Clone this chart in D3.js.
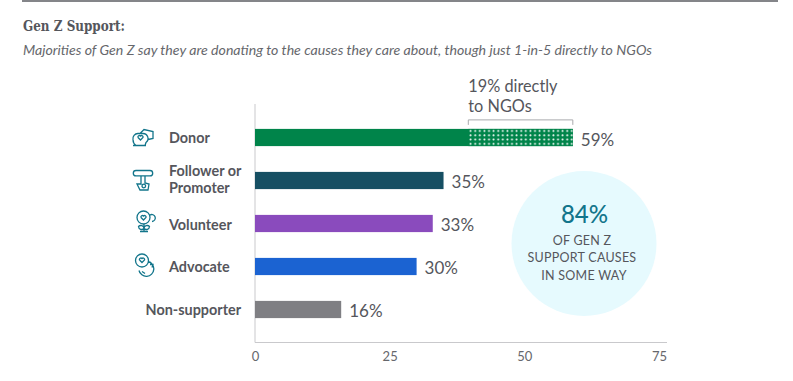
<!DOCTYPE html>
<html lang="en">
<head>
<meta charset="utf-8">
<title>Gen Z Support</title>
<script src="https://d3js.org/d3.v7.min.js"></script>
<style>
	html, body { margin: 0; padding: 0; background: #fff; overflow: hidden; }
	svg { display: block; }
	text { font-family: Lato, "Open Sans", sans-serif; }
</style>
</head>
<body>
<div id="chart"></div>
<script>
	// Data
	const categories = ["Donor", "Follower or Promoter", "Volunteer", "Advocate", "Non-supporter"];
	const values = [59, 35, 33, 30, 16];
	const barColors = ["#00844a", "#164f63", "#8a4bbd", "#1b63d2", "#7f7f83"];
	const directShare = 19.4; // dotted part as drawn, labelled 19%
	const xTicks = [0, 25, 50, 75];

	const width = 793;
	const height = 381;
	const grey = "#55565c";
	const teal = "#12758b";

	const svg = d3.select("#chart")
		.append("svg")
		.attr("width", width)
		.attr("height", height);

	// Scales
	const xScale = d3.scaleLinear().domain([0, 75]).range([255, 659]);
	const yScale = d3.scaleBand()
		.domain(categories)
		.range([116, 331])
		.paddingInner(0.6)
		.paddingOuter(0.3);

	// Header
	svg.append("line")
		.attr("x1", 22).attr("x2", 778)
		.attr("y1", 1).attr("y2", 1)
		.attr("stroke", "#5b5c62")
		.attr("stroke-width", 1.5);

	svg.append("text")
		.attr("x", 23).attr("y", 31)
		.attr("font-size", 15.5)
		.attr("font-weight", 700)
		.attr("fill", grey)
		.style("font-family", "'DejaVu Serif', serif")
		.attr("textLength", 102)
		.attr("lengthAdjust", "spacingAndGlyphs")
		.text("Gen Z Support:");

	svg.append("text")
		.attr("x", 23).attr("y", 55)
		.attr("font-size", 14)
		.attr("font-style", "italic")
		.attr("fill", "#66676c")
		.attr("textLength", 629)
		.attr("lengthAdjust", "spacingAndGlyphs")
		.text("Majorities of Gen Z say they are donating to the causes they care about, though just 1-in-5 directly to NGOs");

	// Callout circle
	svg.append("circle")
		.attr("cx", 584).attr("cy", 243.5).attr("r", 72.5)
		.attr("fill", "#e6fafe");

	svg.append("text")
		.attr("x", 584.5).attr("y", 223)
		.attr("text-anchor", "middle")
		.attr("font-size", 24)
		.attr("font-weight", 500)
		.attr("fill", teal)
		.text("84%");

	["OF GEN Z", "SUPPORT CAUSES", "IN SOME WAY"].forEach((line, i) => {
		svg.append("text")
			.attr("x", i === 2 ? 584 : 582).attr("y", 245 + i * 17.4)
			.attr("text-anchor", "middle")
			.attr("font-size", 12.5)
			.attr("letter-spacing", "0.02em")
			.attr("fill", grey)
			.text(line);
	});

	// Axes
	const xAxis = d3.axisBottom(xScale)
		.tickValues(xTicks)
		.tickSize(0)
		.tickPadding(9);

	const xAxisG = svg.append("g")
		.attr("transform", "translate(0, 342.5)")
		.call(xAxis);
	xAxisG.select(".domain").remove();
	xAxisG.selectAll("text")
		.attr("font-size", 13)
		.attr("fill", "#66676c")
		.style("font-family", "Lato, sans-serif");

	svg.append("line")
		.attr("x1", xScale(0)).attr("x2", 667)
		.attr("y1", 342.5).attr("y2", 342.5)
		.attr("stroke", "#c9c9cc");
	svg.append("line")
		.attr("x1", xScale(0)).attr("x2", xScale(0))
		.attr("y1", 104).attr("y2", 342.5)
		.attr("stroke", "#c9c9cc");

	// Bars
	svg.selectAll(".bar")
		.data(categories)
		.enter()
		.append("rect")
		.attr("class", "bar")
		.attr("x", xScale(0))
		.attr("y", d => yScale(d))
		.attr("width", (d, i) => xScale(values[i]) - xScale(0))
		.attr("height", yScale.bandwidth())
		.attr("fill", (d, i) => barColors[i]);

	// Dotted part of the donor bar
	const pattern = svg.append("defs").append("pattern")
		.attr("id", "dots")
		.attr("width", 4.6).attr("height", 4.3)
		.attr("patternUnits", "userSpaceOnUse")
		.attr("x", xScale(values[0] - directShare))
		.attr("y", yScale(categories[0]));
	pattern.append("rect").attr("width", 4.6).attr("height", 4.3).attr("fill", barColors[0]);
	pattern.append("circle").attr("cx", 2.3).attr("cy", 2.1).attr("r", 1).attr("fill", "#fff");

	svg.append("rect")
		.attr("x", xScale(values[0] - directShare))
		.attr("y", yScale(categories[0]))
		.attr("width", xScale(values[0]) - xScale(values[0] - directShare))
		.attr("height", yScale.bandwidth())
		.attr("fill", "url(#dots)");

	// Bracket + annotation
	const bx0 = xScale(values[0] - directShare);
	const bx1 = xScale(values[0]);
	const bTop = yScale(categories[0]) - 9;
	svg.append("path")
		.attr("d", `M${bx0},${bTop + 5}V${bTop}H${bx1}V${bTop + 5}`)
		.attr("fill", "none")
		.attr("stroke", "#a9aaad")
		.attr("stroke-width", 1);

	["19% directly", "to NGOs"].forEach((line, i) => {
		svg.append("text")
			.attr("x", bx0).attr("y", 92 + i * 20)
			.attr("font-size", 16.3)
			.attr("fill", grey)
			.text(line);
	});

	// Value labels
	svg.selectAll(".value-label")
		.data(categories)
		.enter()
		.append("text")
		.attr("class", "value-label")
		.attr("x", (d, i) => xScale(values[i]) + 8)
		.attr("y", (d, i) => yScale(d) + yScale.bandwidth() / 2 + (i === 0 ? 2 : 1))
		.attr("dy", "0.38em")
		.attr("font-size", 17)
		.attr("fill", grey)
		.text((d, i) => `${values[i]}%`);

	// Category labels
	const labelLines = { "Follower or Promoter": ["Follower or", "Promoter"] };
	const labelNudge = { "Follower or Promoter": -1.5, "Volunteer": 1 };
	categories.forEach(c => {
		const cy = yScale(c) + yScale.bandwidth() / 2;
		const lines = labelLines[c] || [c];
		const isLast = c === "Non-supporter";
		const nudge = labelNudge[c] || 0;
		lines.forEach((line, i) => {
			svg.append("text")
				.attr("x", isLast ? 241 : 169)
				.attr("y", cy + nudge + (i - (lines.length - 1) / 2) * 17)
				.attr("dy", "0.36em")
				.attr("text-anchor", isLast ? "end" : "start")
				.attr("font-size", 14.4)
				.attr("font-weight", 700)
				.attr("fill", grey)
				.text(line);
		});
	});

	// Small outline icons, hand drawn
	const heart = "l2.5,2.5 l2.5,-2.5 a1.5,1.5 0 0 0 -2.5,-1.5 a1.5,1.5 0 0 0 -2.5,1.5";
	const icons = [
		{ c: "Donor", dx: 143, dy: 0,
			d: `M-3,-4 L1,-8 L10,-6 V1 L5,2 M-10,2 a5,5 0 0 1 5,-6 h5 a5,5 0 0 1 3,9 l-1,3 H-7 Q-10,6 -10,2 M-5,0 ${heart} M-10,8 H3` },
		{ c: "Follower or Promoter", dx: 143, dy: -0.5,
			d: `M-7,-9.5 H7 a2.7,2.7 0 0 1 0,5.4 H-7 a2.7,2.7 0 0 1 0,-5.4 M-2,-4 V4 H-6 L-3,10 H5 L6,4 L2,3 V-4 M0.8,6 m-1.8,0 a1.8,1.8 0 1 0 3.6,0 a1.8,1.8 0 1 0 -3.6,0` },
		{ c: "Volunteer", dx: 144, dy: -2,
			d: `M-7,-4 a6.5,6.5 0 1 0 13,0 a6.5,6.5 0 1 0 -13,0 M-3,-4 ${heart} M6,-6.5 a3.5,3.5 0 1 1 2,6.5 M0,3 V10 M0,7 a3.2,3.2 0 0 0 -5.5,-2 a3.2,3.2 0 0 0 5.5,2 a3.2,3.2 0 0 1 5.5,-2 a3.2,3.2 0 0 1 -5.5,2 M-4,10 H4` },
		{ c: "Advocate", dx: 143, dy: -1,
			d: `M-7.5,-5 a6.5,6.5 0 1 0 13,0 a6.5,6.5 0 1 0 -13,0 M-3.5,-5.5 ${heart} M5,-4 A7.5,7.5 0 1 1 -4,5 M-1,6 l3,2 M7,-1 h3 l-1,3` }
	];
	svg.selectAll(".icon")
		.data(icons)
		.enter()
		.append("path")
		.attr("class", "icon")
		.attr("transform", d => `translate(${d.dx}, ${yScale(d.c) + yScale.bandwidth() / 2 + d.dy})`)
		.attr("d", d => d.d)
		.attr("fill", "none")
		.attr("stroke", teal)
		.attr("stroke-width", 1.3);
</script>
</body>
</html>
